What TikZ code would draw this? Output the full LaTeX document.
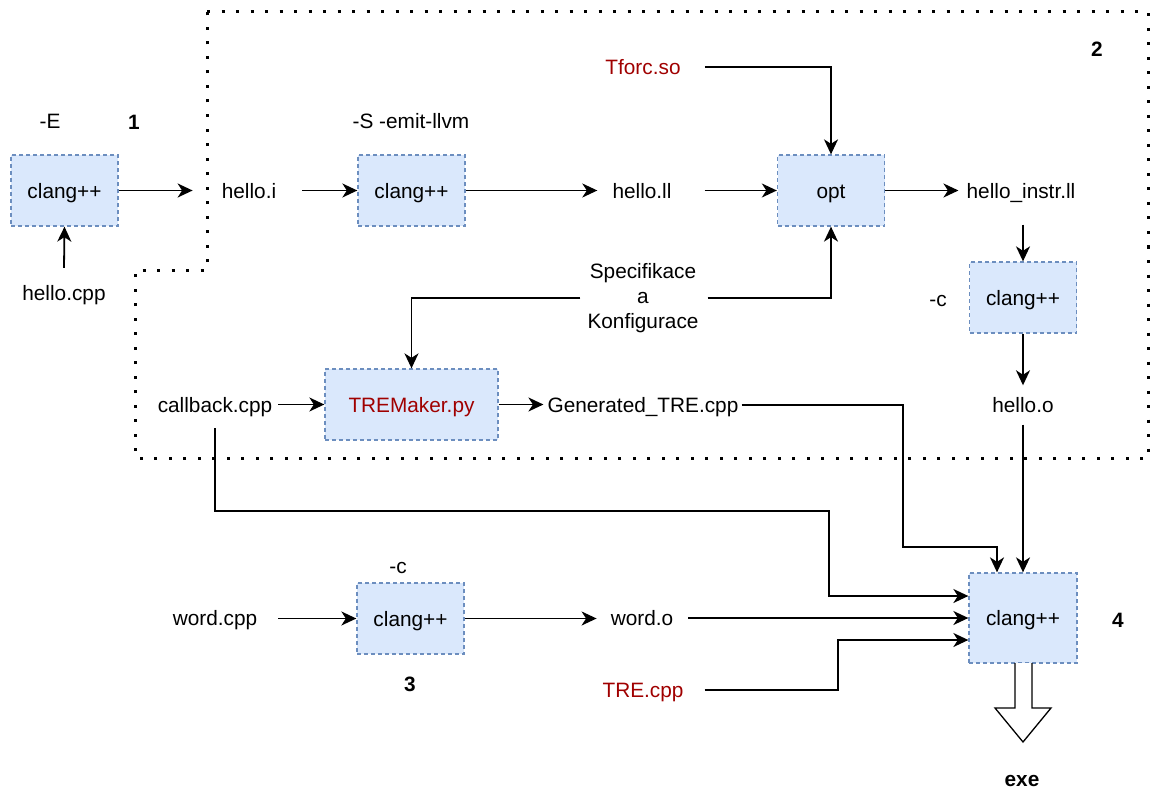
\documentclass[tikz,border=0pt]{standalone}
\usepackage{fontspec}
\setmainfont{Liberation Sans}
\usetikzlibrary{arrows.meta}
\definecolor{boxfill}{HTML}{DAE8FC}
\definecolor{boxline}{HTML}{6C8EBF}
\definecolor{darkred}{HTML}{A00000}
\begin{document}
\begin{tikzpicture}[x=1pt,y=-1pt,
 every node/.style={font=\fontsize{20.8}{25}\selectfont, inner sep=0pt},
 txt/.style={text height=17pt, text depth=2pt},
 proc/.style={txt, draw=boxline, fill=boxfill, dash pattern=on 4pt off 3pt, line width=1.3pt, minimum width=107pt, minimum height=71pt},
 num/.style={txt, font=\fontsize{20.8}{25}\selectfont\bfseries},
 arr/.style={line width=1.8pt, -{Stealth[length=15pt,width=14pt,inset=4.5pt]}},
 border/.style={line width=3pt, dash pattern=on 3pt off 11.5pt}
]
\useasboundingbox (0,0) rectangle (1152,789);

% dotted region
\draw[border] (207,12) -- (1148,12) -- (1148,458) -- (135,458) -- (135,270) -- (207,270) -- cycle;

% process boxes
\node[proc] (c1) at (64.5,190.5) {clang++};
\node[proc] (c2) at (411.5,190.5) {clang++};
\node[proc] (opt) at (831,190.5) {opt};
\node[proc] (c3) at (1023,297.5) {clang++};
\node[proc, minimum width=173pt, text=darkred] (tre) at (411.5,404.5) {TREMaker.py};
\node[proc] (c4) at (410.5,618.5) {clang++};
\node[proc, minimum width=108pt, minimum height=90pt] (c5) at (1023,618) {clang++};

% labels
\node[txt] (E) at (50,121) {-E};
\node[num] (n1) at (134,122) {1};
\node[txt, minimum height=50pt] (hcpp) at (64,293) {hello.cpp};
\node[txt] (hi) at (249,190.5) {hello.i};
\node[txt] (S) at (411,121) {-S -emit-llvm};
\node[txt] (hll) at (642,190.5) {hello.ll};
\node[txt, text=darkred] (tf) at (643,67) {Tforc.so};
\node[num] (n2) at (1097,49) {2};
\node[txt, minimum height=68pt] (hin) at (1021,190.5) {hello\_instr.ll};
\node[align=center] (sp) at (643,298) {Specifikace\\a\\Konfigurace};
\node[txt] (c3l) at (938,299) {-c};
\node[txt, minimum height=46pt] (cb) at (215,405) {callback.cpp};
\node[txt] (gen) at (643,405) {Generated\_TRE.cpp};
\node[txt, minimum height=39pt] (ho) at (1023,405) {hello.o};
\node[txt] (c4l) at (398,566) {-c};
\node[txt] (wc) at (215,618) {word.cpp};
\node[txt] (wo) at (642,618) {word.o};
\node[num] (n3) at (410,684) {3};
\node[txt, text=darkred] (trec) at (643,690) {TRE.cpp};
\node[num] (n4) at (1118,620) {4};
\node[num] (exe) at (1022,779) {exe};

% connectors
\draw[arr] (hcpp.north) -- (c1.south);
\draw[arr, shorten >=29pt] (c1.east) -- (c1.east -| hi.west);
\draw[arr, shorten <=26pt] (c2.west -| hi.east) -- (c2.west);
\draw[arr, shorten >=15pt] (c2.east) -- (c2.east -| hll.west);
\draw[arr, shorten <=33pt] (opt.west -| hll.east) -- (opt.west);
\draw[arr, shorten <=24pt] (tf.east) -| (opt.north);
\draw[arr, shorten >=8pt] (opt.east) -- (opt.east -| hin.west);
\draw[arr] (c3.north |- hin.south) -- (c3.north);
\draw[arr] (c3.south) -- (ho.north);
\draw[arr, shorten <=9pt] (sp.east) -| (opt.south);
\draw[arr, shorten <=7pt] (sp.west) -| (tre.north);
\draw[arr, shorten <=6pt] (tre.west -| cb.east) -- (tre.west);
\draw[arr, shorten >=4pt] (tre.east) -- (tre.east -| gen.west);
\draw[arr, shorten <=3pt] (gen.east) -| (903,547) -| ([xshift=-26pt]c5.north);
\draw[arr] (ho.south) -- (c5.north);
\draw[arr] (cb.south) |- (829,511) |- ([yshift=22pt]c5.west);
\draw[arr, shorten <=21pt] (c4.west -| wc.east) -- (c4.west);
\draw[arr, shorten >=14pt] (c4.east) -- (c4.east -| wo.west);
\draw[arr, shorten <=15pt] (c5.west -| wo.east) -- (c5.west);
\draw[arr, shorten <=21pt] (trec.east) -| (838,640) -- ([yshift=-22pt]c5.west);

% big hollow arrow to exe
\draw[line width=1.3pt, fill=white, line join=miter] (1015,663) -- (1015,708) -- (995,708) -- (1023,742) -- (1051,708) -- (1032,708) -- (1032,663);
\end{tikzpicture}
\end{document}
